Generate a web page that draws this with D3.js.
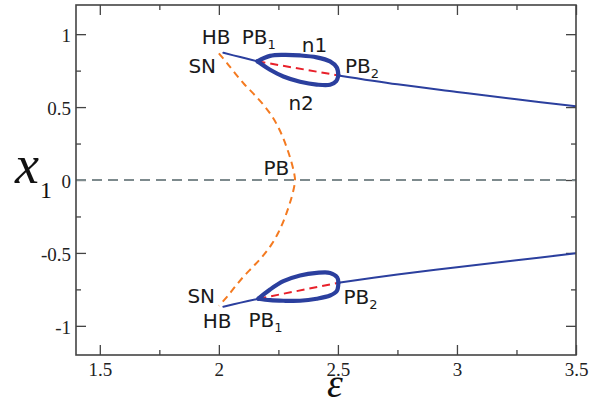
<!DOCTYPE html>
<html>
<head>
<meta charset="utf-8">
<script src="https://cdn.jsdelivr.net/npm/d3@7"></script>
<style>
  body { margin: 0; background: #fff; }
</style>
</head>
<body>
<svg id="chart"></svg>
<script>
// tick values
const xMajorTicks = [1.5, 2, 2.5, 3, 3.5];
const xMinorTicks = [1.75, 2.25, 2.75, 3.25];
const yMajorTicks = [-1, -0.5, 0, 0.5, 1];
const yMinorTicks = [-0.75, -0.25, 0.25, 0.75];

// branches, as [epsilon, x1]
const zeroBranch = [[1.4, 0], [3.5, 0]];
const saddleBranch = [
  [2.000, 0.869], [2.035, 0.800], [2.070, 0.728], [2.105, 0.660], [2.145, 0.592],
  [2.185, 0.520], [2.222, 0.440], [2.250, 0.360], [2.272, 0.280], [2.292, 0.190],
  [2.307, 0.110], [2.317, 0.040], [2.320, 0.000], [2.317, -0.040], [2.307, -0.110],
  [2.292, -0.190], [2.272, -0.280], [2.250, -0.360], [2.222, -0.440], [2.185, -0.520],
  [2.145, -0.592], [2.105, -0.660], [2.070, -0.728], [2.035, -0.800], [2.000, -0.862]
];
const upperHead = [[2.019, 0.872], [2.090, 0.843], [2.162, 0.814]];
const upperTail = [[2.502, 0.717], [2.75, 0.656], [3.0, 0.604], [3.25, 0.553], [3.5, 0.505]];
const upperN1 = [
  [2.162, 0.814], [2.215, 0.851], [2.271, 0.858], [2.341, 0.854], [2.411, 0.841],
  [2.467, 0.813], [2.495, 0.772], [2.502, 0.717]
];
const upperN2 = [
  [2.162, 0.814], [2.215, 0.756], [2.271, 0.710], [2.341, 0.674], [2.411, 0.654],
  [2.467, 0.653], [2.493, 0.678], [2.502, 0.717]
];
const upperUnstable = [[2.162, 0.814], [2.502, 0.717]];

const lowerHead = [[2.019, -0.869], [2.092, -0.841], [2.166, -0.814]];
const lowerTail = [[2.502, -0.705], [2.75, -0.648], [3.0, -0.598], [3.25, -0.550], [3.5, -0.503]];
const lowerTop = [
  [2.166, -0.814], [2.215, -0.751], [2.271, -0.694], [2.341, -0.655], [2.411, -0.637],
  [2.467, -0.637], [2.497, -0.668], [2.502, -0.705]
];
const lowerBottom = [
  [2.166, -0.814], [2.215, -0.824], [2.271, -0.828], [2.341, -0.828], [2.411, -0.814],
  [2.467, -0.792], [2.495, -0.762], [2.502, -0.705]
];
const lowerUnstable = [[2.166, -0.814], [2.502, -0.705]];

// annotation texts, placed in data units (left edge, baseline)
const annotations = [
  {text: 'HB', sub: '', at: [1.928, 0.931]},
  {text: 'PB', sub: '1', at: [2.096, 0.931]},
  {text: 'SN', sub: '', at: [1.872, 0.736]},
  {text: 'n1', sub: '', at: [2.348, 0.880]},
  {text: 'n2', sub: '', at: [2.292, 0.480]},
  {text: 'PB', sub: '2', at: [2.530, 0.732]},
  {text: 'PB', sub: '', at: [2.187, 0.034]},
  {text: 'SN', sub: '', at: [1.868, -0.846]},
  {text: 'HB', sub: '', at: [1.932, -1.017]},
  {text: 'PB', sub: '1', at: [2.124, -1.006]},
  {text: 'PB', sub: '2', at: [2.523, -0.850]}
];

const SERIF = 'Liberation Serif';
const SANS = 'DejaVu Sans';

class BifurcationPlot {
  constructor(_config) {
    this.config = {
      parentElement: _config.parentElement,
      containerWidth: _config.containerWidth || 607,
      containerHeight: _config.containerHeight || 409,
      margin: _config.margin || {top: 5, right: 31, bottom: 54, left: 76}
    };
    this.initVis();
  }

  initVis() {
    let vis = this;
    vis.width = vis.config.containerWidth - vis.config.margin.left - vis.config.margin.right;
    vis.height = vis.config.containerHeight - vis.config.margin.top - vis.config.margin.bottom;

    vis.xScale = d3.scaleLinear().domain([1.4, 3.5]).range([0, vis.width]);
    vis.yScale = d3.scaleLinear().domain([-1.2, 1.2]).range([vis.height, 0]);

    vis.svg = d3.select(vis.config.parentElement)
        .attr('width', vis.config.containerWidth)
        .attr('height', vis.config.containerHeight);

    vis.chart = vis.svg.append('g')
        .attr('transform', `translate(${vis.config.margin.left},${vis.config.margin.top})`);

    vis.chart.append('clipPath').attr('id', 'plot-clip')
      .append('rect').attr('width', vis.width).attr('height', vis.height);

    vis.line = d3.line()
        .x(d => vis.xScale(d[0]))
        .y(d => vis.yScale(d[1]))
        .curve(d3.curveCatmullRom.alpha(0.5));
  }

  renderVis() {
    let vis = this;

    // axes on all four sides, ticks pointing inward
    const addAxis = (axisFn, values, size, transform, labels) => {
      const ax = axisFn.tickValues(values).tickSize(-size).tickPadding(labels ? 6 : 0);
      if (!labels) ax.tickFormat('');
      else ax.tickFormat(d => String(d));
      const g = vis.chart.append('g')
          .attr('transform', transform)
          .attr('color', '#444')
          .call(ax)
          .attr('font-family', SERIF)
          .attr('font-size', 19);
      g.select('.domain').remove();
      g.selectAll('.tick line').attr('stroke-width', 1.3);
      g.selectAll('.tick text').attr('fill', '#222');
      return g;
    };
    addAxis(d3.axisBottom(vis.xScale), xMajorTicks, 10, `translate(0,${vis.height})`, true)
      .selectAll('text').attr('dy', '0.72em').attr('y', 7);
    addAxis(d3.axisBottom(vis.xScale), xMinorTicks, 5, `translate(0,${vis.height})`, false);
    addAxis(d3.axisTop(vis.xScale), xMajorTicks, 10, 'translate(0,0)', false);
    addAxis(d3.axisTop(vis.xScale), xMinorTicks, 5, 'translate(0,0)', false);
    addAxis(d3.axisLeft(vis.yScale), yMajorTicks, 10, 'translate(0,0)', true)
      .selectAll('text').attr('x', -5).attr('dy', '0.38em');
    addAxis(d3.axisLeft(vis.yScale), yMinorTicks, 5, 'translate(0,0)', false);
    addAxis(d3.axisRight(vis.yScale), yMajorTicks, 10, `translate(${vis.width},0)`, false);
    addAxis(d3.axisRight(vis.yScale), yMinorTicks, 5, `translate(${vis.width},0)`, false);

    const plot = vis.chart.append('g').attr('clip-path', 'url(#plot-clip)');

    const draw = (data, color, width, dash) => {
      plot.append('path')
          .datum(data)
          .attr('d', vis.line)
          .attr('fill', 'none')
          .attr('stroke', color)
          .attr('stroke-width', width)
          .attr('stroke-dasharray', dash || null)
          .attr('stroke-linecap', dash ? 'butt' : 'round')
          .attr('stroke-linejoin', 'round');
    };

    draw(zeroBranch, '#7d8a8d', 2, '10,6');
    draw(saddleBranch, '#f47a20', 2, '7,5');
    [upperHead, upperTail, lowerHead, lowerTail].forEach(d => draw(d, '#2b3f9e', 2));
    [upperUnstable, lowerUnstable].forEach(d => draw(d, '#e8202a', 2, '8,5'));
    [upperN1, upperN2, lowerTop, lowerBottom].forEach(d => draw(d, '#2b3f9e', 4.2));

    // frame
    vis.chart.append('rect')
        .attr('width', vis.width)
        .attr('height', vis.height)
        .attr('fill', 'none')
        .attr('stroke', '#444')
        .attr('stroke-width', 1.6);

    // annotations
    const txt = vis.chart.selectAll('.annot')
        .data(annotations)
      .join('text')
        .attr('class', 'annot')
        .attr('font-family', SANS)
        .attr('font-size', 20)
        .attr('fill', '#1a1a1a')
        .attr('x', d => vis.xScale(d.at[0]))
        .attr('y', d => vis.yScale(d.at[1]))
        .text(d => d.text);
    txt.filter(d => d.sub)
      .append('tspan')
        .attr('dy', 5)
        .attr('font-size', 13)
        .text(d => d.sub);

    // axis titles
    const yt = vis.svg.append('text')
        .attr('font-family', SERIF)
        .attr('fill', '#111')
        .attr('x', 15)
        .attr('y', 183);
    yt.append('tspan').attr('font-size', 54).attr('font-style', 'italic').text('x');
    yt.append('tspan').attr('font-size', 24).attr('dy', 15).attr('dx', 1).text('1');

    vis.svg.append('text')
        .attr('font-family', SERIF)
        .attr('fill', '#111')
        .attr('font-size', 40)
        .attr('font-style', 'italic')
        .attr('x', 335)
        .attr('y', 397)
        .attr('text-anchor', 'middle')
        .text('ε');
  }
}

const plot = new BifurcationPlot({parentElement: '#chart'});
plot.renderVis();
</script>
</body>
</html>
